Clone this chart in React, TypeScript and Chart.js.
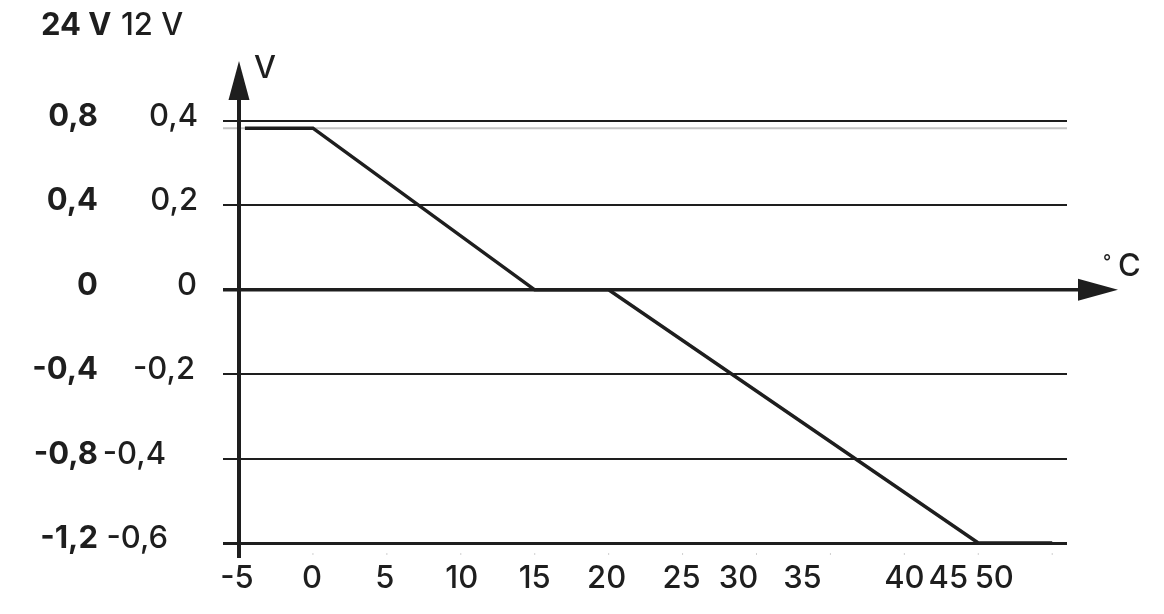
import { useEffect, useRef } from 'react';
import { Chart, registerables } from 'chart.js';

Chart.register(...registerables);

// ---------- data ----------
const TEMP_C = [-4.6, 0, 15, 20, 45, 50];
const VOLT_12 = [0.383, 0.383, 0, 0, -0.6, -0.6];
const TOP_LEVEL_12 = 0.383; // grey reference line
const X_TICKS = [-5, 0, 5, 10, 15, 20, 25, 30, 35, 40, 45, 50];
const Y_TICKS_12 = [0.4, 0.2, 0, -0.2, -0.4, -0.6];
const Y_LABELS_24 = ['0,8', '0,4', '0', '-0,4', '-0,8', '-1,2'];
const Y_LABELS_12 = ['0,4', '0,2', '0', '-0,2', '-0,4', '-0,6'];
const HEADER_24 = '24 V';
const HEADER_12 = '12 V';
const Y_UNIT = 'V';
const X_UNIT = 'C';
const DEGREE = '°';

// ---------- layout (not data) ----------
const X_LABEL_SHIFT = [-2, -1, -2, 1, 0, -2, -1, -18, -28, 0, -30, -58];
const Y12_LABEL_RIGHT = [198, 198, 197, 195, 166, 168];
const FONT = 'Inter, "Open Sans", sans-serif';
const FS = 31;
const REG = `500 ${FS}px ${FONT}`;
const BOLD = `700 ${FS}px ${FONT}`;
const INK = '#1e1e1e';

const decor = {
  id: 'decor',
  beforeDatasetsDraw(chart: any) {
    const { ctx, chartArea, scales } = chart;
    const x = scales.x;
    const y = scales.y;
    const yTop = y.getPixelForValue(TOP_LEVEL_12);
    const y0 = y.getPixelForValue(0);
    const xAx = x.getPixelForValue(X_TICKS[0]);
    ctx.save();
    ctx.strokeStyle = '#c4c4c4';
    ctx.lineWidth = 2;
    ctx.beginPath();
    ctx.moveTo(chartArea.left - 16, yTop);
    ctx.lineTo(chartArea.right, yTop);
    ctx.stroke();
    // zero axis with arrow
    ctx.strokeStyle = INK;
    ctx.fillStyle = INK;
    ctx.lineWidth = 3.5;
    ctx.beginPath();
    ctx.moveTo(chartArea.left - 16, y0);
    ctx.lineTo(chartArea.right + 14, y0);
    ctx.stroke();
    ctx.beginPath();
    ctx.moveTo(chartArea.right + 11, y0 - 11);
    ctx.lineTo(chartArea.right + 51, y0);
    ctx.lineTo(chartArea.right + 11, y0 + 11);
    ctx.closePath();
    ctx.fill();
    // vertical axis with arrow
    ctx.lineWidth = 4;
    ctx.beginPath();
    ctx.moveTo(xAx, chartArea.bottom + 15);
    ctx.lineTo(xAx, chartArea.top - 25);
    ctx.stroke();
    ctx.beginPath();
    ctx.moveTo(xAx - 10.5, chartArea.top - 21);
    ctx.lineTo(xAx, chartArea.top - 60);
    ctx.lineTo(xAx + 10.5, chartArea.top - 21);
    ctx.closePath();
    ctx.fill();
    ctx.restore();
  },
  afterDraw(chart: any) {
    const { ctx, chartArea, scales } = chart;
    const x = scales.x;
    const y = scales.y;
    const y0 = y.getPixelForValue(0);
    ctx.save();
    ctx.fillStyle = INK;
    ctx.textBaseline = 'alphabetic';
    ctx.textAlign = 'left';
    ctx.font = BOLD;
    ctx.fillText(HEADER_24, 41, 35);
    ctx.font = REG;
    ctx.fillText(HEADER_12, 121, 35);
    ctx.fillText(Y_UNIT, 254, 78);
    ctx.fillText(X_UNIT, 1118, y0 - 14);
    ctx.font = `500 18px ${FONT}`;
    ctx.fillText(DEGREE, 1103, y0 - 22);
    // y labels
    ctx.textAlign = 'right';
    Y_TICKS_12.forEach((v, i) => {
      const py = y.getPixelForValue(v) + 5;
      ctx.font = BOLD;
      ctx.fillText(Y_LABELS_24[i], 98, py);
      ctx.font = REG;
      ctx.fillText(Y_LABELS_12[i], Y12_LABEL_RIGHT[i], py);
    });
    // x labels
    ctx.textAlign = 'center';
    ctx.font = REG;
    X_TICKS.forEach((v, i) => {
      const px = x.getPixelForValue(v);
      ctx.fillText(String(v), px + X_LABEL_SHIFT[i], chartArea.bottom + 45);
      if (i > 0) {
        ctx.fillStyle = '#d0d0d0';
        ctx.fillRect(px - 0.5, chartArea.bottom + 10, 1, 2);
        ctx.fillStyle = INK;
      }
    });
    ctx.restore();
  },
};

export default function App() {
  const ref = useRef<HTMLCanvasElement>(null);
  useEffect(() => {
    if (!ref.current) return;
    const chart = new Chart(ref.current, {
      type: 'line',
      data: {
        datasets: [
          {
            data: TEMP_C.map((t, i) => ({ x: t, y: VOLT_12[i] })),
            borderColor: INK,
            borderWidth: 3.5,
            pointRadius: 0,
            fill: false,
            tension: 0,
          },
        ],
      },
      options: {
        animation: false,
        responsive: false,
        events: [],
        layout: { padding: { left: 223, right: 97, top: 121, bottom: 51 } },
        plugins: { legend: { display: false }, tooltip: { enabled: false } },
        scales: {
          x: {
            type: 'linear',
            min: -5,
            max: 51,
            ticks: { display: false, stepSize: 5 },
            grid: { display: false },
            border: { display: false },
            afterFit: (s: any) => {
              s.height = 20;
            },
          },
          y: {
            type: 'linear',
            min: -0.6,
            max: 0.4,
            ticks: { display: false, stepSize: 0.2 },
            grid: {
              color: INK,
              lineWidth: (c: any) => (c.tick && Math.abs(c.tick.value + 0.6) < 1e-6 ? 3 : 2),
              drawTicks: true,
              tickLength: 16,
              tickColor: INK,
            },
            border: { display: false },
            afterFit: (s: any) => {
              s.width = 16;
            },
          },
        },
      },
      plugins: [decor],
    } as any);
    return () => chart.destroy();
  }, []);
  return (
    <div style={{ position: 'fixed', left: 0, top: 0, width: 1164, height: 614, background: '#fff' }}>
      <canvas ref={ref} width={1164} height={614} />
    </div>
  );
}
